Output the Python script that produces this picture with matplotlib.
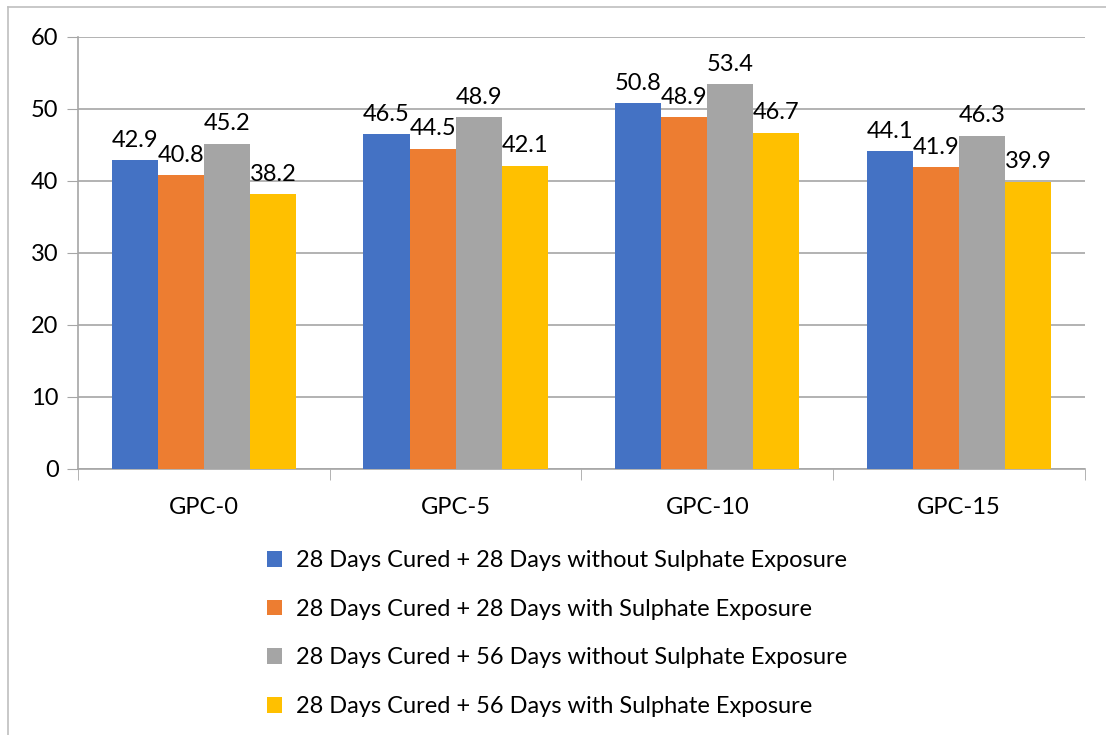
import matplotlib.pyplot as plt
import numpy as np
from matplotlib.patches import Patch
from matplotlib.lines import Line2D

plt.rcParams['font.family'] = ['Lato', 'DejaVu Sans']

groups = ['GPC-0', 'GPC-5', 'GPC-10', 'GPC-15']
series = [
    '28 Days Cured + 28 Days without Sulphate Exposure',
    '28 Days Cured + 28 Days with Sulphate Exposure',
    '28 Days Cured + 56 Days without Sulphate Exposure',
    '28 Days Cured + 56 Days with Sulphate Exposure',
]
d28_no = [42.9, 46.5, 50.8, 44.1]
d28_yes = [40.8, 44.5, 48.9, 41.9]
d56_no = [45.2, 48.9, 53.4, 46.3]
d56_yes = [38.2, 42.1, 46.7, 39.9]
colors = ['#4472C4', '#ED7D31', '#A5A5A5', '#FFC000']

fs = 17
grid_col = '#A6A6A6'
fig = plt.figure(figsize=(11.06, 7.35), dpi=100)
ax = fig.add_axes([0.0705, 0.362, 0.9105, 0.5877])

x = np.arange(len(groups))
w = 0.183
vals = [d28_no, d28_yes, d56_no, d56_yes]
for i, v in enumerate(vals):
    pos = x + (i - 1.5) * w
    ax.bar(pos, v, w, color=colors[i], zorder=3)
    for p, val in zip(pos, v):
        ax.text(p, val + 1.3, f'{val}', ha='center', va='bottom', fontsize=fs, zorder=4)

ax.set_xlim(-0.5, 3.5)
ax.set_ylim(0, 60)
ax.set_yticks(range(0, 61, 10))
ax.yaxis.grid(True, color=grid_col, linewidth=1.2, zorder=0)
ax.tick_params(axis='y', length=8, color=grid_col, labelsize=fs, pad=6)
ax.set_xticks(x)
ax.set_xticklabels(groups)
ax.tick_params(axis='x', length=0, labelsize=fs, pad=20)
ax.set_xticks(np.arange(-0.5, 4, 1), minor=True)
ax.tick_params(axis='x', which='minor', length=8, color=grid_col)
for s in ['top', 'right']:
    ax.spines[s].set_visible(False)
ax.spines['left'].set_color(grid_col)
ax.spines['bottom'].set_color(grid_col)
ax.spines['left'].set_linewidth(1.2)
ax.spines['bottom'].set_linewidth(1.2)

handles = [Patch(facecolor=c, edgecolor='none') for c in colors]
fig.legend(handles, series, loc='upper left', bbox_to_anchor=(0.2305, 0.2675),
           frameon=False, fontsize=fs, handlelength=0.65, handleheight=0.65,
           handletextpad=0.6, labelspacing=1.17, borderpad=0)

# outer chart border (left and top visible)
fig.add_artist(Line2D([0.0075, 0.0075], [0, 0.9905], color='#BFBFBF', linewidth=1.2))
fig.add_artist(Line2D([0.0075, 1.0], [0.9905, 0.9905], color='#BFBFBF', linewidth=1.2))

fig.savefig('out.png', dpi=100)
